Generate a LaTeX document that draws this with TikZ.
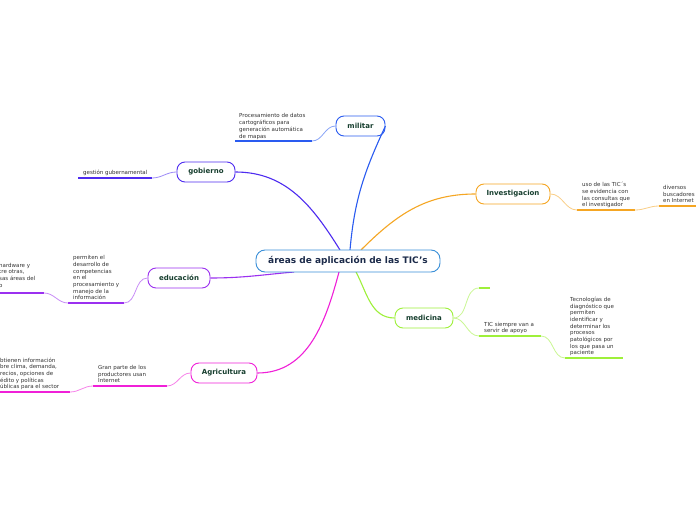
\documentclass[tikz,border=0pt]{standalone}
\usepackage{fontspec}
\setsansfont{DejaVu Sans}
\definecolor{ccen}{HTML}{3A8FD8}
\definecolor{cmil}{HTML}{2A5BF0}
\definecolor{cgob}{HTML}{4E2CF0}
\definecolor{cedu}{HTML}{9B30F0}
\definecolor{cagr}{HTML}{F020D8}
\definecolor{cinv}{HTML}{F5A623}
\definecolor{cmed}{HTML}{9EF03A}
\definecolor{ttopic}{HTML}{173F2F}
\definecolor{tcen}{HTML}{1C2B4A}
\definecolor{tleaf}{HTML}{333333}
\newcommand\lstrut{\rule[-1.4pt]{0pt}{1pt}}
\tikzset{
  centralbox/.style={draw=ccen, line width=0.9pt, rounded corners=9pt, fill=white,
    minimum width=184pt, minimum height=22pt, inner sep=0pt,
    font=\sffamily\bfseries\fontsize{9}{10}\selectfont, text=tcen},
  topic/.style={draw, line width=0.9pt, rounded corners=8pt, fill=white,
    minimum height=20pt, inner sep=0pt,
    font=\sffamily\bfseries\fontsize{7}{8}\selectfont, text=ttopic},
  leaf/.style={anchor=south west, inner sep=0pt, align=left,
    font=\sffamily\fontsize{5.5}{6.7}\selectfont, text=tleaf},
  uline/.style={line width=1.3pt},
  branch/.style={line width=1.1pt},
  conn/.style={line width=0.8pt},
}
\begin{document}
\begin{tikzpicture}[x=1pt,y=1pt]
\useasboundingbox (0,0) rectangle (696,520);
\fill[white] (0,0) rectangle (696,520);

% branches from central (drawn first, nodes cover their ends)
\coordinate (bmil) at (350,270);
\coordinate (bgob) at (340,270);
\coordinate (binv) at (361,270);
\coordinate (bedu) at (294,248);
\coordinate (bagr) at (339,248);
\coordinate (bmed) at (356,248);

% main nodes
\node[topic, draw=cmil, minimum width=49pt] (mil) at (360.5,394) {militar};
\node[topic, draw=cgob, minimum width=58pt] (gob) at (206,348) {gobierno};
\node[topic, draw=cedu, minimum width=62pt] (edu) at (179,242) {educación};
\node[topic, draw=cagr, minimum width=66pt] (agr) at (224,147) {Agricultura};
\node[topic, draw=cinv, minimum width=74pt] (inv) at (513,326) {Investigacion};
\node[topic, draw=cmed, minimum width=58pt] (med) at (424,202) {medicina};

\draw[branch, cmil] (bmil) to[out=85,in=-115] (mil.east);
\draw[branch, cgob] (bgob) to[out=122,in=0] (gob.east);
\draw[branch, cedu] (bedu) to[out=185,in=0] (edu.east);
\draw[branch, cagr] (bagr) to[out=-105,in=0] (agr.east);
\draw[branch, cinv] (binv) to[out=45,in=180] (inv.west);
\draw[branch, cmed] (bmed) to[out=-62,in=180] (med.west);

\node[centralbox] (c) at (348,259) {áreas de aplicación de las TIC’s};

% militar leaf
\coordinate (mla) at (235,379); \coordinate (mlb) at (312,379);
\draw[uline, cmil] (mla) -- (mlb);
\draw[conn, cmil!55] (mil.west) to[out=180,in=0] (mlb);
\node[leaf] (mlt) at ([shift={(4,1.3)}]mla) {Procesamiento de datos\\cartográficos para\\generación automática\\de mapas\lstrut};

% gobierno leaf
\coordinate (gla) at (78,342); \coordinate (glb) at (152,342);
\draw[uline, cgob] (gla) -- (glb);
\draw[conn, cgob!55] (gob.west) to[out=180,in=0] (glb);
\node[leaf] (glt) at ([shift={(5,1.5)}]gla) {gestión gubernamental\lstrut};

% educacion leaf
\coordinate (ela) at (68,217); \coordinate (elb) at (124,217);
\draw[uline, cedu] (ela) -- (elb);
\draw[conn, cedu!55] (edu.west) to[out=180,in=0] (elb);
\node[leaf] (elt) at ([shift={(5,1.5)}]ela) {permiten el\\desarrollo de\\competencias\\en el\\procesamiento y\\manejo de la\\información\lstrut};
\coordinate (esa) at (-5,227); \coordinate (esb) at (44,227);
\draw[uline, cedu] (esa) -- (esb);
\draw[conn, cedu!55] (ela) to[out=180,in=0] (esb);
\node[leaf] (est) at (-1,231) {hardware y\\tre otras,\\sas áreas del\\o\lstrut};

% agricultura leaf
\coordinate (ala) at (93,134); \coordinate (alb) at (167,134);
\draw[uline, cagr] (ala) -- (alb);
\draw[conn, cagr!55] (agr.west) to[out=180,in=0] (alb);
\node[leaf] (alt) at ([shift={(5,1.5)}]ala) {Gran parte de los\\productores usan\\Internet\lstrut};
\coordinate (asa) at (-5,128); \coordinate (asb) at (70,128);
\draw[uline, cagr] (asa) -- (asb);
\draw[conn, cagr!55] (ala) to[out=180,in=0] (asb);
\node[leaf] (ast) at (0,129.5) {btienen información\\bre clima, demanda,\\recios, opciones de\\édito y políticas\\úblicas para el sector\lstrut};

% investigacion leaf
\coordinate (ila) at (577,310); \coordinate (ilb) at (635,310);
\draw[uline, cinv] (ila) -- (ilb);
\draw[conn, cinv!55] (inv.east) to[out=0,in=180] (ila);
\node[leaf] (ilt) at ([shift={(5,1.5)}]ila) {uso de las TIC´s\\se evidencia con\\las consultas que\\el investigador\lstrut};
\coordinate (isa) at (659,314); \coordinate (isb) at (700,314);
\draw[uline, cinv] (isa) -- (isb);
\draw[conn, cinv!55] (ilb) to[out=0,in=180] (isa);
\node[leaf] (ist) at ([shift={(4,1.5)}]isa) {diversos\\buscadores\\en Internet\lstrut};

% medicina leaves
\coordinate (m0a) at (479,232); \coordinate (m0b) at (490,232);
\draw[uline, cmed] (m0a) -- (m0b);
\draw[conn, cmed!55] (med.east) to[out=0,in=180] (m0a);
\coordinate (mda) at (479,184); \coordinate (mdb) at (541,184);
\draw[uline, cmed] (mda) -- (mdb);
\draw[conn, cmed!55] (med.east) to[out=0,in=180] (mda);
\node[leaf] (mdt) at ([shift={(5,1.5)}]mda) {TIC siempre van a\\servir de apoyo\lstrut};
\coordinate (msa) at (565,162); \coordinate (msb) at (623,162);
\draw[uline, cmed] (msa) -- (msb);
\draw[conn, cmed!55] (mdb) to[out=0,in=180] (msa);
\node[leaf] (mst) at ([shift={(5,1.5)}]msa) {Tecnologías de\\diagnóstico que\\permiten\\identificar y\\determinar los\\procesos\\patológicos por\\los que pasa un\\paciente\lstrut};
\end{tikzpicture}
\end{document}
